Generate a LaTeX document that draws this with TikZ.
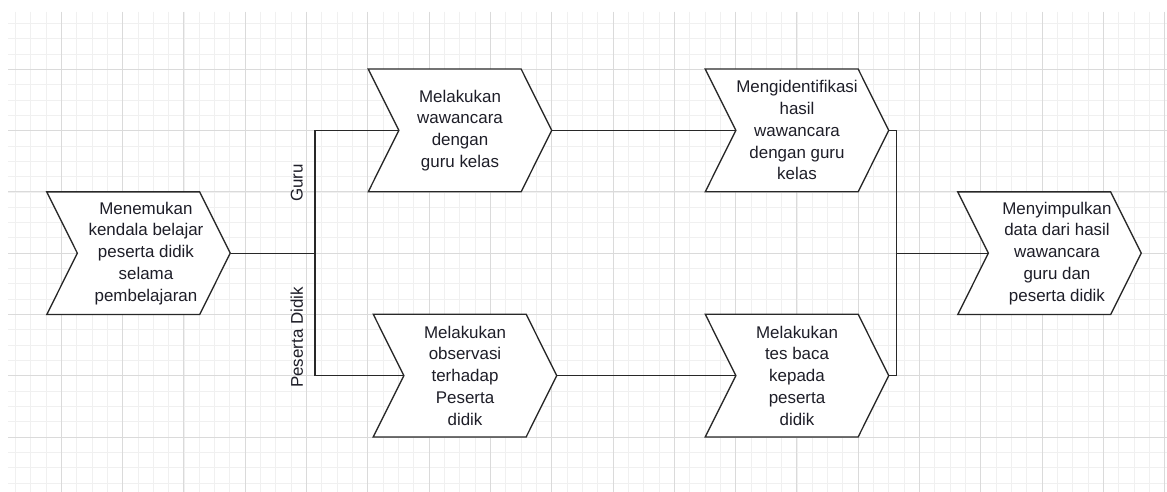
\documentclass[tikz,border=0pt]{standalone}
\usepackage{fontspec}
\setmainfont{Liberation Sans}
\usetikzlibrary{shapes.symbols}

\tikzset{
  stepbox/.style={shape=signal, signal from=west, signal to=east, signal pointer angle=127,
    draw={rgb, 255:red, 40; green, 40; blue, 40}, line width=1pt, fill=white,
    minimum width=137.6pt, minimum height=92pt, inner sep=0pt},
  steptext/.style={align=center, inner sep=0pt, text={rgb, 255:red, 30; green, 30; blue, 40},
    font=\fontsize{12.7}{16.3}\selectfont},
  flowline/.style={draw={rgb, 255:red, 40; green, 40; blue, 40}, line width=1pt},
  gridminor/.style={draw={rgb, 255:red, 240; green, 240; blue, 240}, line width=0.6pt},
  gridmajor/.style={draw={rgb, 255:red, 218; green, 218; blue, 218}, line width=0.7pt}
}

\begin{document}
\begin{tikzpicture}[x=0.75pt,y=0.75pt,yscale=-1,xscale=1]

\useasboundingbox (0,0) rectangle (1167,492);
\fill[white] (0,0) rectangle (1167,492);

%Grid
\foreach \i in {1,...,76} {\draw[gridminor] (15.325*\i,12) -- (15.325*\i,492);}
\foreach \j in {1,...,31} {\draw[gridminor] (8,8+15.325*\j) -- (1167,8+15.325*\j);}
\foreach \i in {1,...,19} {\draw[gridmajor] (61.3*\i,12) -- (61.3*\i,492);}
\foreach \j in {1,...,7} {\draw[gridmajor] (8,8+61.3*\j) -- (1167,8+61.3*\j);}

%Shape: Step
\node[stepbox] (s1) at (138.5,253.2) {};
%Shape: Step
\node[stepbox] (s2) at (460,130.4) {};
%Shape: Step
\node[stepbox] (s3) at (797,130.4) {};
%Shape: Step
\node[stepbox] (s4) at (465,375.6) {};
%Shape: Step
\node[stepbox] (s5) at (797,375.6) {};
%Shape: Step
\node[stepbox] (s6) at (1049.5,253.2) {};

% Text Node
\node[steptext] (t1) at ([xshift=5.6pt]s1.center) {Menemukan\\kendala belajar\\peserta didik\\selama\\pembelajaran};
% Text Node
\node[steptext] (t2) at (s2.center) {Melakukan\\wawancara\\dengan\\guru kelas};
% Text Node
\node[steptext] (t3) at (s3.center) {Mengidentifikasi\\hasil\\wawancara\\dengan guru\\kelas};
% Text Node
\node[steptext] (t4) at (s4.center) {Melakukan\\observasi\\terhadap\\Peserta\\didik};
% Text Node
\node[steptext] (t5) at (s5.center) {Melakukan\\tes baca\\kepada\\peserta\\didik};
% Text Node
\node[steptext] (t6) at ([xshift=5.6pt]s6.center) {Menyimpulkan\\data dari hasil\\wawancara\\guru dan\\peserta didik};

\coordinate (split) at (315,253.2);
\coordinate (merge) at (896.7,253.2);

%Straight Lines
\draw[flowline] (s1.east) -- (split);
\draw[flowline] (split) |- (s2.west);
\draw[flowline] (split) |- (s4.west);
\draw[flowline] (s2.east) -- (s3.west);
\draw[flowline] (s4.east) -- (s5.west);
\draw[flowline] (s3.east) -| (merge);
\draw[flowline] (s5.east) -| (merge);
\draw[flowline] (merge) -- (s6.west);

% Text Node
\node[steptext, rotate=90] (guru) at (296.7,183) {Guru};
% Text Node
\node[steptext, rotate=90] (pd) at (296.7,337.5) {Peserta Didik};

\end{tikzpicture}
\end{document}
